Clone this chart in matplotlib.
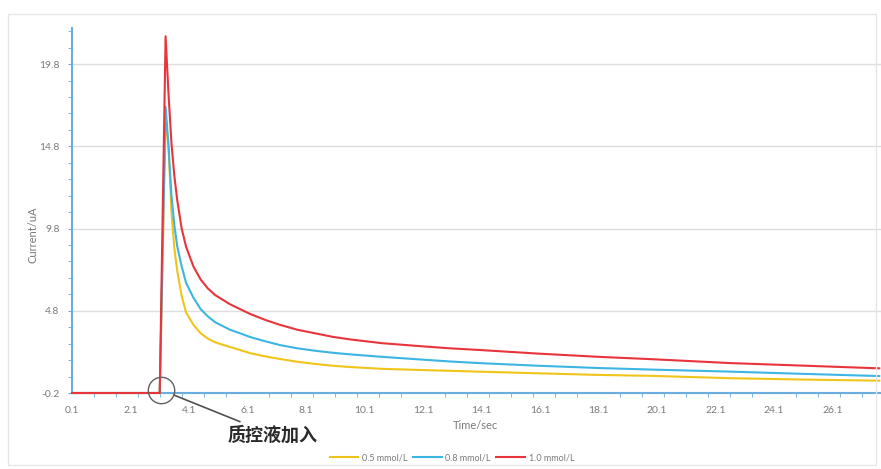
import matplotlib
matplotlib.use("Agg")
import matplotlib.pyplot as plt
import numpy as np
from matplotlib.patches import Rectangle
from matplotlib.lines import Line2D

# values
time_sec = [0.1, 3.1, 3.3, 3.4, 3.5, 3.6, 3.7, 3.85, 4.0, 4.25, 4.5, 4.75, 5.0, 5.5, 5.85,
            6.2, 6.7, 7.2, 7.8, 8.5, 9.0, 9.6, 10.7, 12.0, 13.0, 14.0, 16.0, 18.1, 20.0,
            22.6, 25.0, 27.7]
cur_05 = [-0.2, -0.2, 16.6, 14.8, 10.8, 8.6, 7.2, 5.7, 4.7, 3.95, 3.43, 3.1, 2.88, 2.6, 2.41,
          2.22, 2.03, 1.87, 1.7, 1.55, 1.46, 1.38, 1.27, 1.2, 1.15, 1.1, 1.0, 0.9, 0.84,
          0.7, 0.62, 0.55]
cur_08 = [-0.2, -0.2, 17.2, 14.8, 11.8, 10.0, 8.7, 7.5, 6.5, 5.6, 4.9, 4.45, 4.1, 3.65, 3.43,
          3.2, 2.95, 2.72, 2.52, 2.35, 2.25, 2.15, 2.0, 1.84, 1.72, 1.62, 1.46, 1.32, 1.22,
          1.1, 0.97, 0.83]
cur_10 = [-0.2, -0.2, 21.5, 18.0, 15.0, 13.0, 11.5, 9.8, 8.7, 7.5, 6.7, 6.15, 5.75, 5.2, 4.9,
          4.6, 4.25, 3.95, 3.65, 3.4, 3.22, 3.06, 2.83, 2.65, 2.52, 2.42, 2.2, 2.0, 1.85,
          1.62, 1.47, 1.3]
labels = ["0.5 mmol/L", "0.8 mmol/L", "1.0 mmol/L"]
colors = ["#F0C419", "#3DB5E2", "#E8353B"]
xticks = np.arange(0.1, 27, 2.0)
yticks = np.arange(-0.2, 20, 5.0)

plt.rcParams["font.family"] = ["Lato", "DejaVu Sans"]
txt_col = "#7a7a7a"
axis_col = "#6AAEDF"

fig = plt.figure(figsize=(8.81, 4.69), dpi=100)
fig.patches.append(Rectangle((8 / 881, 4 / 469), 868 / 881, 451 / 469, transform=fig.transFigure,
                             fill=False, edgecolor="#e6e6e6", lw=1))
ax = fig.add_axes([72 / 881, 1 - 393 / 469, 809 / 881, 365 / 469])

for ys, lab, c in zip([cur_05, cur_08, cur_10], labels, colors):
    ax.plot(time_sec, ys, color=c, lw=1.5, label=lab, clip_on=False, zorder=3,
            solid_joinstyle="round")

ax.set_xlim(0.1, 27.76)
ax.set_ylim(-0.2, 22.0)
ax.set_xticks(xticks)
ax.set_xticklabels([f"{v:.1f}" for v in xticks])
ax.set_xticks(np.arange(0.1, 27.8, 0.75), minor=True)
ax.set_yticks(yticks)
ax.set_yticklabels([f"{v:.1f}" for v in yticks])
ax.set_yticks(np.arange(-0.2, 22.0, 1.0), minor=True)
ax.tick_params(axis="x", which="major", length=0, pad=9, labelsize=7.5, labelcolor=txt_col)
ax.tick_params(axis="x", which="minor", length=3, color=axis_col, direction="out")
ax.tick_params(axis="y", which="both", length=3, color=axis_col, direction="out",
               labelsize=7.5, labelcolor=txt_col, pad=6)
ax.grid(axis="y", which="major", color="#dedede", lw=1)
for s in ["top", "right"]:
    ax.spines[s].set_visible(False)
for s in ["left", "bottom"]:
    ax.spines[s].set_color(axis_col)
    ax.spines[s].set_linewidth(1.5)

fig.text(475 / 881, 1 - 425 / 469, "Time/sec", ha="center", va="center", fontsize=8, color=txt_col)
fig.text(33 / 881, 1 - 235 / 469, "Current/uA", ha="center", va="center", rotation=90,
         fontsize=8, color=txt_col)

# circle marking where the control solution is added
ax.plot([3.16], [-0.02], marker="o", ms=19, mfc="none", mec="#606060", mew=1, clip_on=False, zorder=4)
ax.annotate("质控液加入", xy=(3.16, -0.02), xycoords="data", xytext=(228, 469 - 435),
            textcoords="figure pixels", ha="left", va="center", fontsize=13, color="#2a2a2a",
            family=["Noto Sans CJK SC", "DejaVu Sans"], fontweight="bold",
            arrowprops=dict(arrowstyle="-", color="#505050", lw=1.2, shrinkA=2, shrinkB=9.5),
            annotation_clip=False)

handles = [Line2D([], [], color=c, lw=1.5) for c in colors]
fig.legend(handles, labels, loc="center", bbox_to_anchor=(452 / 881, 1 - 458 / 469), ncol=3,
           frameon=False, fontsize=6.5, labelcolor=txt_col, handlelength=3.2,
           handletextpad=0.4, columnspacing=0.6)

fig.savefig("out.png", dpi=100)
